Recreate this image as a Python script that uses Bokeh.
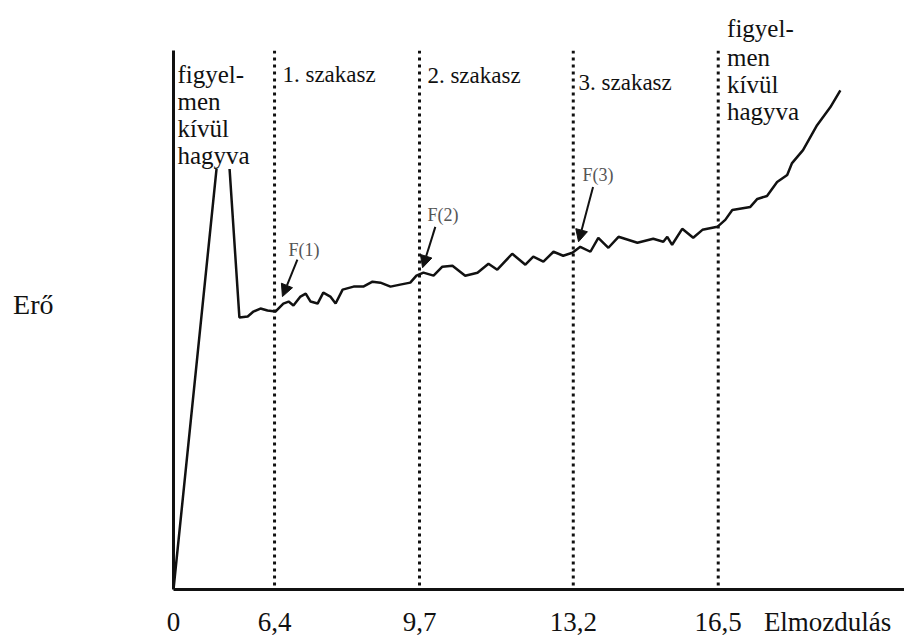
from bokeh.plotting import figure
from bokeh.models import (Range1d, FixedTicker, Span, Label, Arrow, NormalHead,
                          ColumnDataSource, LinearAxis)
from bokeh.core.properties import value
from bokeh.embed import file_html
from bokeh.resources import INLINE

# ---- data ----
# displacement (axis units; the 0..6,4 part of the axis is compressed)
disp = [4.10, 5.26, 5.60, 5.79, 5.92, 6.08, 6.24, 6.42, 6.60, 6.72, 6.83, 6.99,
        7.11, 7.22, 7.38, 7.51, 7.67, 7.79, 7.95, 8.20, 8.42, 8.63, 8.81, 9.04,
        9.26, 9.49, 9.63, 9.79, 10.02, 10.22, 10.45, 10.74, 11.02, 11.27, 11.47,
        11.81, 12.11, 12.29, 12.52, 12.75, 12.97, 13.18, 13.36, 13.59, 13.77,
        14.00, 14.23, 14.66, 15.02, 15.25, 15.34, 15.45, 15.68, 15.93, 16.14,
        16.48, 16.66, 16.82, 17.23, 17.39, 17.61, 17.84, 18.07, 18.18, 18.43,
        18.75, 19.05, 19.28]
force = [0.0, 100.0, 54.6, 54.8, 55.8, 56.4, 56.0, 55.8, 57.4, 57.8, 57.0, 58.8,
         59.4, 57.8, 57.4, 59.6, 58.8, 57.4, 60.2, 60.8, 60.8, 61.8, 61.6, 60.8,
         61.2, 61.6, 63.0, 63.6, 63.0, 64.8, 65.0, 63.0, 63.6, 65.4, 64.2,
         67.4, 65.2, 66.8, 65.8, 67.8, 67.0, 67.6, 68.8, 67.8, 70.6,
         68.6, 70.8, 69.6, 70.4, 69.8, 70.8, 69.2, 72.4, 70.6, 72.2,
         72.8, 74.2, 76.2, 76.8, 78.4, 79.0, 81.8, 83.2, 85.6, 88.2,
         93.2, 96.8, 100.2]

tick_vals = [4.1, 6.4, 9.7, 13.2, 16.5]
tick_labels = ["0", "6,4", "9,7", "13,2", "16,5"]
section_bounds = [6.4, 9.7, 13.2, 16.5]
section_names = ["1. szakasz", "2. szakasz", "3. szakasz"]
ignored_lines = ["figyel-", "men", "kívül", "hagyva"]
f_names = ["F(1)", "F(2)", "F(3)"]
f_tip_x = [6.58, 9.77, 13.32]
f_tip_y = [58.8, 64.6, 69.8]
f_tail_x = [6.92, 10.06, 13.65]
f_tail_y = [66.2, 72.8, 80.8]
x_title = "Elmozdulás"
y_title = "Erő"

# ---- positions of annotation texts (layout) ----
x_title_pos = 18.99          # placed as an extra tick of the x axis
y_title_pos = 57.2           # placed as a tick of the y axis
top_word_pos = 17.46         # first word of the right-hand note (above the frame)
sec_lab_x = [6.58, 9.88, 13.32]
sec_lab_y = [103.4, 103.2, 101.8]
f_lab_x = [6.72, 9.88, 13.41]
f_lab_y = [68.2, 75.2, 83.2]

FONT = "Liberation Serif"
INK = "#111111"

p = figure(width=904, height=639,
           x_range=Range1d(4.1, 20.74), y_range=Range1d(0, 108.2),
           output_backend="svg", toolbar_location=None,
           min_border_left=173, min_border_right=0,
           min_border_top=50, min_border_bottom=48)
p.grid.visible = False
p.outline_line_color = None
p.background_fill_color = "white"
p.border_fill_color = "white"

# x axis (tick labels + axis title as last label)
xa = p.xaxis[0]
xa.ticker = FixedTicker(ticks=tick_vals + [x_title_pos])
xa.major_label_overrides = dict(zip(tick_vals + [x_title_pos], tick_labels + [x_title]))
xa.major_tick_line_color = None
xa.minor_tick_line_color = None
xa.major_tick_out = 0
xa.major_tick_in = 0
xa.major_label_standoff = 17
xa.major_label_text_font = FONT
xa.major_label_text_font_size = "27px"
xa.major_label_text_color = INK
xa.axis_line_width = 3
xa.axis_line_color = INK

# y axis (title shown as a horizontal label)
ya = p.yaxis[0]
ya.ticker = FixedTicker(ticks=[y_title_pos])
ya.major_label_overrides = {y_title_pos: y_title}
ya.major_label_standoff = 120
ya.major_label_text_font = FONT
ya.major_label_text_font_size = "28px"
ya.major_label_text_color = INK
ya.major_tick_line_color = None
ya.minor_tick_line_color = None
ya.major_tick_out = 0
ya.major_tick_in = 0
ya.axis_line_width = 3
ya.axis_line_color = INK

# top axis carrying the first word of the right-hand note
ta = LinearAxis(ticker=FixedTicker(ticks=[top_word_pos]),
                major_label_overrides={top_word_pos: ignored_lines[0]},
                axis_line_color=None, major_tick_line_color=None,
                minor_tick_line_color=None, major_tick_out=0, major_tick_in=0,
                major_label_standoff=9, major_label_text_font=FONT,
                major_label_text_font_size="25px", major_label_text_color=INK)
p.add_layout(ta, "above")

# section boundaries
for b in section_bounds:
    p.add_layout(Span(location=b, dimension="height", line_color=INK,
                      line_width=3, line_dash="3 4", level="underlay"))

# curve
p.line(disp, force, line_color=INK, line_width=2.5)

# section names
p.text(x=sec_lab_x, y=sec_lab_y, text=section_names,
       text_font=value(FONT), text_font_size="23px", text_color=INK,
       text_baseline="alphabetic", text_align="left")

# ignored regions
p.add_layout(Label(x=4.19, y=106.1, text="\n".join(ignored_lines), text_font=FONT,
                   text_font_size="25px", text_color=INK, text_baseline="top",
                   text_line_height=1.0, background_fill_color="white"))
p.add_layout(Label(x=16.70, y=109.6, text="\n".join(ignored_lines[1:]), text_font=FONT,
                   text_font_size="25px", text_color=INK, text_baseline="top",
                   text_line_height=1.0))

# F arrows
asrc = ColumnDataSource(dict(x0=f_tail_x, y0=f_tail_y, x1=f_tip_x, y1=f_tip_y))
p.add_layout(Arrow(source=asrc, x_start="x0", y_start="y0", x_end="x1", y_end="y1",
                   line_color=INK, line_width=2,
                   end=NormalHead(size=12, fill_color=INK, line_color=INK)))
p.text(x=f_lab_x, y=f_lab_y, text=f_names, text_font=value(FONT),
       text_font_size="18px", text_color="#555555",
       text_baseline="alphabetic", text_align="left")

open("out.html", "w").write(file_html(p, INLINE))
